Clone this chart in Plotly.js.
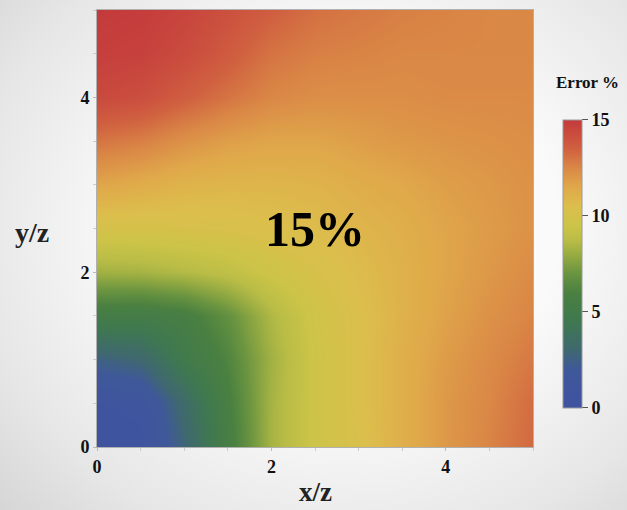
<!DOCTYPE html>
<html>
<head>
<meta charset="utf-8">
<script src="https://cdn.plot.ly/plotly-3.0.1.min.js"></script>
<style>
html,body{margin:0;padding:0;}
body{width:627px;height:510px;background:radial-gradient(ellipse 75% 80% at 55% 45%, #ffffff 0%, #fafafa 45%, #e6e6e6 80%, #d6d6d6 100%);}
#chart{width:627px;height:510px;}
</style>
</head>
<body>
<div id="chart"></div>
<script>
const xVals = [0, 0.5, 1, 1.5, 2, 2.5, 3, 3.5, 4, 4.5, 5];
const yVals = [0, 0.5, 1, 1.5, 2, 2.5, 3, 3.5, 4, 4.5, 5];
// rows follow yVals (bottom to top), columns follow xVals
const errorRows = [
  [0.5, 0.6, 2.8, 5.6, 8.3, 9.6, 10.3, 11.2, 12.0, 12.6, 13.3],
  [0.8, 1.0, 3.3, 5.8, 8.3, 9.6, 10.4, 11.2, 12.0, 12.5, 13.2],
  [2.5, 3.0, 4.8, 6.2, 8.2, 9.6, 10.4, 11.2, 11.9, 12.4, 12.9],
  [5.3, 5.2, 5.6, 6.8, 8.5, 9.7, 10.4, 11.1, 11.7, 12.2, 12.6],
  [8.2, 8.3, 8.6, 9.0, 9.6, 10.1, 10.6, 11.1, 11.6, 12.0, 12.4],
  [10.0, 10.0, 10.1, 10.2, 10.4, 10.6, 10.9, 11.2, 11.6, 11.9, 12.2],
  [11.6, 11.3, 11.0, 10.9, 10.9, 11.0, 11.3, 11.5, 11.8, 12.0, 12.2],
  [13.0, 12.7, 12.2, 11.8, 11.6, 11.6, 11.8, 12.0, 12.1, 12.2, 12.3],
  [14.4, 14.2, 13.6, 13.0, 12.5, 12.3, 12.3, 12.3, 12.4, 12.4, 12.4],
  [14.8, 14.7, 14.3, 13.7, 13.0, 12.7, 12.6, 12.5, 12.5, 12.5, 12.5],
  [15.0, 14.9, 14.6, 14.1, 13.6, 13.1, 12.9, 12.7, 12.6, 12.5, 12.5]
];
const axisTicks = [0, 2, 4];
const barTicks = [0, 5, 10, 15];
const labelText = "15%";

const serif = "Liberation Serif, Times New Roman, serif";

const colorscale = [
  [0.000, '#3F52A0'],
  [0.133, '#3F589A'],
  [0.200, '#3F6870'],
  [0.300, '#3F7850'],
  [0.400, '#4A8040'],
  [0.467, '#6A9440'],
  [0.533, '#98AC42'],
  [0.580, '#B8BC46'],
  [0.633, '#CCC448'],
  [0.700, '#DCBE4C'],
  [0.767, '#E0A84A'],
  [0.833, '#DA8846'],
  [0.900, '#D06040'],
  [1.000, '#C43A3C']
];

const trace = {
  type: 'heatmap',
  x: xVals,
  y: yVals,
  z: errorRows,
  zmin: 0,
  zmax: 15,
  zsmooth: 'best',
  colorscale: colorscale,
  hoverinfo: 'skip',
  colorbar: {
    x: 1.069, xanchor: 'left', xref: 'paper',
    y: 0.419, yanchor: 'middle', yref: 'paper',
    len: 0.66, lenmode: 'fraction',
    thickness: 19, thicknessmode: 'pixels',
    outlinewidth: 1, outlinecolor: '#9a9a9a',
    tickvals: barTicks,
    ticks: 'outside', ticklen: 6, tickcolor: '#555',
    minor: {dtick: 1, ticks: 'outside', ticklen: 3, tickcolor: '#aaa'},
    tickfont: {family: serif, size: 18, color: '#111', weight: 'bold'},
    xpad: 0, ypad: 0
  }
};

const layout = {
  width: 627,
  height: 510,
  margin: {l: 97, r: 94, t: 10, b: 63, pad: 0},
  paper_bgcolor: 'rgba(0,0,0,0)',
  plot_bgcolor: 'rgba(0,0,0,0)',
  xaxis: {
    range: [0, 5], tickvals: axisTicks, showgrid: false, zeroline: false,
    showline: true, linecolor: '#b0b0b0', linewidth: 1, mirror: true,
    ticks: 'outside', ticklen: 3, tickcolor: '#bbb',
    minor: {dtick: 0.5, ticks: 'outside', ticklen: 3, tickcolor: '#ccc'},
    tickfont: {family: serif, size: 18, color: '#111', weight: 'bold'}
  },
  yaxis: {
    range: [0, 5], tickvals: axisTicks, showgrid: false, zeroline: false,
    showline: true, linecolor: '#b0b0b0', linewidth: 1, mirror: true,
    ticks: 'outside', ticklen: 3, tickcolor: '#bbb',
    minor: {dtick: 0.5, ticks: 'outside', ticklen: 3, tickcolor: '#ccc'},
    tickfont: {family: serif, size: 18, color: '#111', weight: 'bold'}
  },
  annotations: [
    {text: labelText, xref: 'x', yref: 'y', x: 2.5, y: 2.5, showarrow: false,
     font: {family: serif, size: 50, color: '#000', weight: 'bold'}},
    {text: 'x/z', xref: 'paper', yref: 'paper', x: 0.5, y: -0.103, yanchor: 'middle', showarrow: false,
     font: {family: serif, size: 27, color: '#222', weight: 'bold'}},
    {text: 'y/z', xref: 'paper', yref: 'paper', x: -0.15, y: 0.49, xanchor: 'center', yanchor: 'middle', showarrow: false,
     font: {family: serif, size: 28, color: '#222', weight: 'bold'}},
    {text: 'Error %', xref: 'paper', yref: 'paper', x: 1.126, y: 0.833, xanchor: 'center', yanchor: 'middle', showarrow: false,
     font: {family: serif, size: 17, color: '#111', weight: 'bold'}}
  ]
};

Plotly.newPlot('chart', [trace], layout, {displayModeBar: false, staticPlot: true});
</script>
</body>
</html>
